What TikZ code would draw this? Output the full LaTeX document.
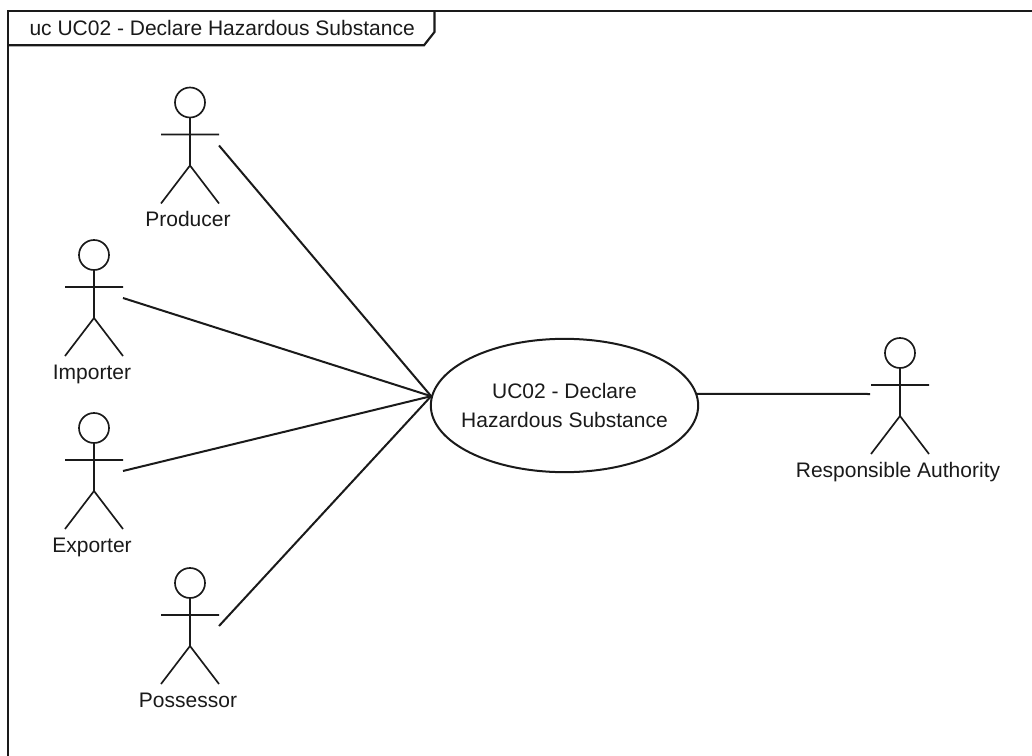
\documentclass[tikz,border=0pt]{standalone}
\usepackage{fontspec}
\setmainfont{Liberation Sans}
\usetikzlibrary{calc,shapes.geometric}
\definecolor{ink}{HTML}{1A1A1A}
\tikzset{
  x=0.75pt,y=-0.75pt,
  uml/.style={draw=ink,line width=1.5pt},
  limb/.style={draw=ink,line width=1.25pt},
  frameline/.style={draw=ink,line width=1.6pt},
  lbl/.style={font=\fontsize{15.75pt}{18pt}\selectfont,text=ink,inner sep=0pt,anchor=base},
  usecase/.style={uml,ellipse,inner xsep=-8pt,inner ysep=0pt,minimum width=200.5pt,minimum height=100pt},
}
\newcommand{\actor}[4]{%
  \coordinate (#1) at (#2,#3);
  \draw[limb] (#1) circle (15*0.75pt);
  \draw[limb] ($(#1)+(0,15)$) -- ($(#1)+(0,63)$)
     ($(#1)+(-29,32)$) -- ($(#1)+(29,32)$)
     ($(#1)+(-29,101)$) -- ($(#1)+(0,63)$) -- ($(#1)+(29,101)$);
  \node[lbl] (#1-label) at ($(#1)+(-2,124)$) {#4};
  \coordinate (#1-port) at ($(#1)+(29,43)$);
}
\begin{document}
\begin{tikzpicture}
\useasboundingbox (0,0) rectangle (1032,756);
\fill[white] (0,0) rectangle (1032,756);
\draw[frameline] (8.4,756) -- (8.4,11.3) -- (1032,11.3);
\draw[frameline] (8.4,45.3) -- (424,45.3) -- (434.5,32) -- (434.5,11.3);
\node[lbl,anchor=base west] (title) at (29.3,35.7) {uc UC02 - Declare Hazardous Substance};
\actor{prod}{190}{102.5}{Producer}
\actor{imp}{94}{255}{Importer}
\actor{exp}{94}{428}{Exporter}
\actor{poss}{190}{583}{Possessor}
\actor{auth}{900}{353}{Responsible Authority}
\node[usecase,align=center,font=\fontsize{15.75pt}{21.5pt}\selectfont,text=ink] (uc) at (564.5,405.5) {UC02 - Declare\\Hazardous Substance};
\coordinate (auth-port) at (870,394);
\draw[uml] (prod-port) -- (uc.176);
\draw[uml] (imp-port) -- (uc.176);
\draw[uml] (exp-port) -- (uc.176);
\draw[uml] (poss-port) -- (uc.176);
\draw[uml] (uc.5) -- (auth-port);
\end{tikzpicture}
\end{document}
